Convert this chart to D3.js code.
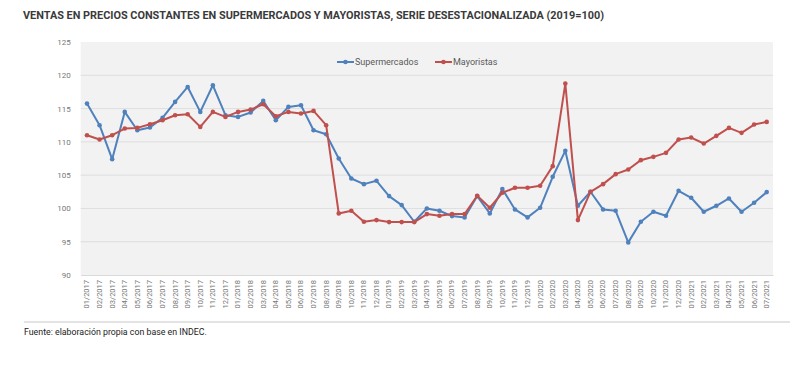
<!DOCTYPE html>
<html><head><meta charset="utf-8">
<script src="https://cdn.jsdelivr.net/npm/d3@7"></script>
<style>
body{margin:0;background:#fff;}
svg{display:block;font-family:Roboto,"Noto Sans",sans-serif;}
</style></head>
<body><svg id="chart" width="800" height="383"></svg>
<script>
const months = [
 "01/2017","02/2017","03/2017","04/2017","05/2017","06/2017","07/2017","08/2017","09/2017","10/2017","11/2017","12/2017",
 "01/2018","02/2018","03/2018","04/2018","05/2018","06/2018","07/2018","08/2018","09/2018","10/2018","11/2018","12/2018",
 "01/2019","02/2019","03/2019","04/2019","05/2019","06/2019","07/2019","08/2019","09/2019","10/2019","11/2019","12/2019",
 "01/2020","02/2020","03/2020","04/2020","05/2020","06/2020","07/2020","08/2020","09/2020","10/2020","11/2020","12/2020",
 "01/2021","02/2021","03/2021","04/2021","05/2021","06/2021","07/2021"];
const supermercados = [
 115.75,112.5,107.4,114.5,111.75,112.15,113.6,116.0,118.25,114.5,118.5,114.0,
 113.75,114.4,116.15,113.25,115.25,115.5,111.75,111.15,107.5,104.5,103.65,104.15,
 101.85,100.5,98.0,100.0,99.65,98.85,98.65,101.85,99.25,102.9,99.85,98.65,
 100.1,104.75,108.65,100.4,102.5,99.85,99.65,94.9,98.0,99.5,98.9,102.65,
 101.6,99.5,100.4,101.5,99.5,100.85,102.45];
const mayoristas = [
 111.0,110.35,111.0,112.0,112.1,112.65,113.25,114.0,114.15,112.25,114.5,113.75,
 114.5,114.85,115.65,113.85,114.5,114.25,114.65,112.5,99.25,99.65,98.0,98.25,
 97.95,97.95,97.95,99.15,98.9,99.15,99.15,101.9,100.1,102.35,103.1,103.1,
 103.4,106.35,118.75,98.25,102.5,103.65,105.15,105.85,107.25,107.75,108.35,110.35,
 110.65,109.75,110.9,112.1,111.35,112.6,113.0];
const yTicks = [90,95,100,105,110,115,120,125];
const seriesNames = ["Supermercados","Mayoristas"];
const seriesColors = ["#4f81bd","#c0504d"];
const title = "VENTAS EN PRECIOS CONSTANTES EN SUPERMERCADOS Y MAYORISTAS, SERIE DESESTACIONALIZADA (2019=100)";
const source = "Fuente: elaboración propia con base en INDEC.";

const svg = d3.select("#chart");
const L = 80.7, R = 773, T = 42, B = 275;
const x = d3.scaleBand().domain(months).range([L, R]);
const y = d3.scaleLinear().domain([90,125]).range([B, T]);

svg.append("text").attr("x",23).attr("y",19)
  .attr("font-size",11).attr("font-weight","bold").attr("fill","#3a3a3a")
  .attr("textLength",581).attr("lengthAdjust","spacingAndGlyphs").text(title);

svg.append("rect").attr("x",L).attr("y",T).attr("width",R-L).attr("height",B-T).attr("fill","#f2f2f2");

// gridlines
svg.append("g").selectAll("line").data(yTicks.filter(d=>d>90 && d<125)).join("line")
  .attr("x1",L).attr("x2",R).attr("y1",d=>y(d)).attr("y2",d=>y(d))
  .attr("stroke","#dedede").attr("stroke-width",1);

// y axis
const yAxis = svg.append("g").attr("transform",`translate(${L},0)`)
  .call(d3.axisLeft(y).tickValues(yTicks).tickSize(0).tickPadding(10));
yAxis.select(".domain").remove();
yAxis.selectAll("text").attr("font-size",8).attr("fill","#777").attr("font-family","Roboto,sans-serif");

// x axis
const xAxis = svg.append("g").attr("transform",`translate(0,${B})`)
  .call(d3.axisBottom(x).tickSize(0).tickPadding(0));
xAxis.select(".domain").attr("stroke","#d9d9d9");
xAxis.selectAll("text")
  .attr("font-size",7.5).attr("fill","#777").attr("font-family","Roboto,sans-serif")
  .attr("transform","rotate(-90)").attr("text-anchor","end")
  .attr("x",-5).attr("y",0).attr("dy","0.32em");

// series
const data = [supermercados, mayoristas];
data.forEach((vals,i)=>{
  const line = d3.line().x((d,j)=>x(months[j])+x.bandwidth()/2).y(d=>y(d));
  svg.append("path").datum(vals).attr("d",line).attr("fill","none")
    .attr("stroke",seriesColors[i]).attr("stroke-width",2).attr("stroke-linejoin","round");
  svg.append("g").selectAll("circle").data(vals).join("circle")
    .attr("cx",(d,j)=>x(months[j])+x.bandwidth()/2).attr("cy",d=>y(d)).attr("r",2.3)
    .attr("fill",seriesColors[i]);
});

// legend
const legX = [337, 435];
seriesNames.forEach((n,i)=>{
  const g = svg.append("g").attr("transform",`translate(${legX[i]},62)`);
  g.append("line").attr("x1",0).attr("x2",17).attr("stroke",seriesColors[i]).attr("stroke-width",2);
  g.append("circle").attr("cx",8.5).attr("r",2.3).attr("fill",seriesColors[i]);
  g.append("text").attr("x",18).attr("y",3.2).attr("font-size",9).attr("fill","#595959").text(n);
});

// separator & source
svg.append("line").attr("x1",24).attr("x2",790).attr("y1",322).attr("y2",322).attr("stroke","#c8c8c8").attr("stroke-width",1);
svg.append("text").attr("x",24).attr("y",335).attr("font-size",8.8).attr("fill","#222").text(source);
</script></body></html>
